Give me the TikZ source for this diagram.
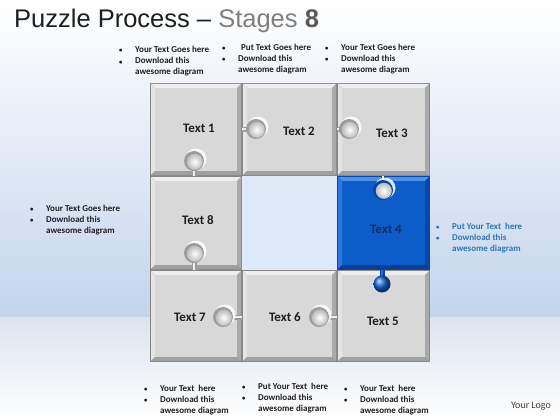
\documentclass[tikz,border=0pt]{standalone}
\usepackage{fontspec}
\setmainfont{Carlito}
\newfontfamily\titlefont{Liberation Sans}
\definecolor{bgblue}{HTML}{C3D4EC}
\definecolor{bgmid}{HTML}{DFE8F5}
\definecolor{floortop}{HTML}{DDE3EE}
\definecolor{txtdark}{HTML}{1F1F1F}
\definecolor{txtblue}{HTML}{2E75B6}
\definecolor{stagegray}{HTML}{7F7F7F}
\definecolor{eightgray}{HTML}{595959}
\definecolor{navy}{HTML}{10305E}
\definecolor{holerim}{HTML}{9C9C9C}
\definecolor{holeout}{HTML}{BDBDBD}
\tikzset{
  gout/.style={fill={rgb,255:red,135;green,135;blue,135}},
  gtop/.style={fill={rgb,255:red,238;green,238;blue,238}},
  gleft/.style={fill={rgb,255:red,229;green,229;blue,229}},
  gright/.style={fill={rgb,255:red,170;green,170;blue,170}},
  gbot/.style={fill={rgb,255:red,160;green,160;blue,160}},
  gface/.style={fill={rgb,255:red,216;green,216;blue,216}},
  bout/.style={fill={rgb,255:red,8;green,70;blue,165}},
  btop/.style={fill={rgb,255:red,74;green,146;blue,236}},
  bleft/.style={fill={rgb,255:red,43;green,120;blue,218}},
  bright/.style={fill={rgb,255:red,6;green,72;blue,168}},
  bbot/.style={fill={rgb,255:red,5;green,63;blue,147}},
  bface/.style={fill={rgb,255:red,12;green,92;blue,202}},
  celltext/.style={font=\fontsize{13pt}{15pt}\selectfont\bfseries, text=txtdark, inner sep=0pt},
  bul/.style={font=\fontsize{9pt}{11pt}\selectfont\bfseries, text=txtdark, inner sep=0pt, anchor=base west},
}
\newcommand\pzcell[5]{%
  \fill[#5out] (#1,#2) rectangle (#3,#4);
  \fill[#5top] (#1+1,#2+1) -- (#3-1,#2+1) -- (#3-5,#2+5) -- (#1+5,#2+5) -- cycle;
  \fill[#5left] (#1+1,#2+1) -- (#1+5,#2+5) -- (#1+5,#4-5) -- (#1+1,#4-1) -- cycle;
  \fill[#5right] (#3-1,#2+1) -- (#3-1,#4-1) -- (#3-5,#4-5) -- (#3-5,#2+5) -- cycle;
  \fill[#5bot] (#1+1,#4-1) -- (#3-1,#4-1) -- (#3-5,#4-5) -- (#1+5,#4-5) -- cycle;
  \fill[#5face] (#1+5,#2+5) rectangle (#3-5,#4-5);
}
% hole: cx cy ex ey rimcolor
\newcommand\pzhole[5]{%
  \draw[line width=5pt, color=#5] (#1,#2) -- (#3,#4);
  \draw[line width=2.6pt, color={rgb,255:red,238;green,238;blue,238}] (#1,#2) -- (#3,#4);
  \fill[color=white, opacity=0.85] (#1+2,#2-2) circle (10.5);
  \fill[color=#5] (#1,#2) circle (10);
  \shade[inner color=white, outer color=holeout] (#1+0.8,#2+0.8) circle (8);
}
\newcommand\pzknob[4]{%
  \draw[line width=5pt, color={rgb,255:red,8;green,70;blue,165}] (#1,#2) -- (#3,#4);
  \draw[line width=2.6pt, color={rgb,255:red,30;green,110;blue,215}] (#1,#2) -- (#3,#4);
  \shade[ball color={rgb,255:red,20;green,100;blue,215}] (#1,#2) circle (8.5);
}
\newcommand\bl[1]{\makebox[16pt][l]{\scalebox{0.75}{\textbullet}}#1}
\begin{document}
\begin{tikzpicture}[x=1pt,y=-1pt]
\useasboundingbox (0,0) rectangle (560,420);
% background
\shade[top color=white, middle color=bgmid, bottom color=bgblue] (0,0) rectangle (560,317);
\shade[top color=floortop, bottom color=white] (0,317) rectangle (560,420);
% empty cell
\fill[color={rgb,255:red,222;green,233;blue,247}] (242,176) rectangle (337,270);
% cells
\pzcell{150}{83}{242}{176}{g}
\pzcell{242}{83}{337}{176}{g}
\pzcell{337}{83}{430}{176}{g}
\pzcell{150}{176}{242}{270}{g}
\pzcell{337}{176}{430}{270}{b}
\pzcell{150}{270}{242}{362}{g}
\pzcell{242}{270}{337}{362}{g}
\pzcell{337}{270}{430}{362}{g}
% holes and knobs
\pzhole{194}{161}{194}{176}{holerim}
\pzhole{194}{253}{194}{270}{holerim}
\pzhole{256}{129}{242}{129}{holerim}
\pzhole{349}{129}{337}{129}{holerim}
\pzhole{383}{190}{383}{176}{{rgb,255:red,8;green,70;blue,165}}
\pzhole{223}{317}{242}{317}{holerim}
\pzhole{319}{317}{337}{317}{holerim}
\pzknob{382}{284}{382}{270}
% cell texts
\node[celltext] (t1) at (199,128) {Text 1};
\node[celltext] (t2) at (299,131) {Text 2};
\node[celltext] (t3) at (392,133) {Text 3};
\node[celltext] (t8) at (198,220) {Text 8};
\node[celltext, text=navy] (t4) at (386,229) {Text 4};
\node[celltext] (t7) at (190,317) {Text 7};
\node[celltext] (t6) at (285,317) {Text 6};
\node[celltext] (t5) at (383,321) {Text 5};
% title
\node[anchor=base west, inner sep=0pt, font=\titlefont\fontsize{25.5pt}{30pt}\selectfont, text=txtdark] (title) at (14,28)
  {Puzzle Process \textendash{} \textcolor{stagegray}{Stages} \textcolor{eightgray}{\bfseries 8}};
% bullet blocks
\node[bul] (b1) at (119,53) {\begin{tabular}[t]{@{}l@{}}\bl{Your Text Goes here}\\\bl{Download this}\\\hspace{16pt}awesome diagram\end{tabular}};
\node[bul] (b2) at (222,51) {\begin{tabular}[t]{@{}l@{}}\bl{\hspace{3pt}Put Text Goes here}\\\bl{Download this}\\\hspace{16pt}awesome diagram\end{tabular}};
\node[bul] (b3) at (325,51) {\begin{tabular}[t]{@{}l@{}}\bl{Your Text Goes here}\\\bl{Download this}\\\hspace{16pt}awesome diagram\end{tabular}};
\node[bul] (b4) at (30,211) {\begin{tabular}[t]{@{}l@{}}\bl{Your Text Goes here}\\\bl{Download this}\\\hspace{16pt}awesome diagram\end{tabular}};
\node[bul, text=txtblue] (b5) at (436,229) {\begin{tabular}[t]{@{}l@{}}\bl{Put Your Text\ \ here}\\\bl{Download this}\\\hspace{16pt}awesome diagram\end{tabular}};
\node[bul] (b6) at (144,391) {\begin{tabular}[t]{@{}l@{}}\bl{Your Text\ \ here}\\\bl{Download this}\\\hspace{16pt}awesome diagram\end{tabular}};
\node[bul] (b7) at (242,389) {\begin{tabular}[t]{@{}l@{}}\bl{Put Your Text\ \ here}\\\bl{Download this}\\\hspace{16pt}awesome diagram\end{tabular}};
\node[bul] (b8) at (344,391) {\begin{tabular}[t]{@{}l@{}}\bl{Your Text\ \ here}\\\bl{Download this}\\\hspace{16pt}awesome diagram\end{tabular}};
% logo
\node[font=\fontsize{10pt}{12pt}\selectfont, text={rgb,255:red,64;green,64;blue,64}, inner sep=0pt] (logo) at (531,406) {Your Logo};
\end{tikzpicture}
\end{document}
